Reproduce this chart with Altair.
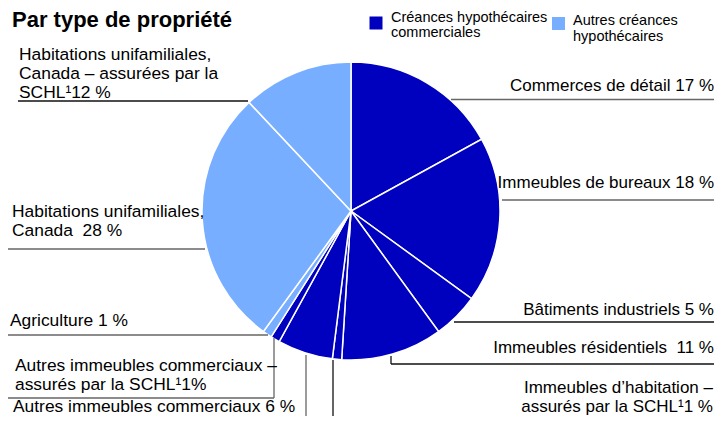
import altair as alt
import pandas as pd

# ---- data ----
categories = [
    "Commerces de détail",
    "Immeubles de bureaux",
    "Bâtiments industriels",
    "Immeubles résidentiels",
    "Immeubles d’habitation – assurés par la SCHL",
    "Autres immeubles commerciaux",
    "Autres immeubles commerciaux – assurés par la SCHL",
    "Agriculture",
    "Habitations unifamiliales, Canada",
    "Habitations unifamiliales, Canada – assurées par la SCHL",
]
values = [17, 18, 5, 11, 1, 6, 1, 1, 28, 12]
groups = ["Créances hypothécaires commerciales"] * 7 + ["Autres créances hypothécaires"] * 3
group_names = ["Créances hypothécaires commerciales", "Autres créances hypothécaires"]

title_text = "Par type de propriété"
legend_lines = [["Créances hypothécaires", "commerciales"], ["Autres créances", "hypothécaires"]]

# label text lines (content)
left_labels = [
    "Habitations unifamiliales,",
    "Canada – assurées par la",
    "SCHL¹12 %",
    "Habitations unifamiliales,",
    "Canada \u00a028 %",
    "Agriculture 1 %",
    "Autres immeubles commerciaux –",
    "assurés par la SCHL¹1%",
    "Autres immeubles commerciaux 6 %",
]
right_labels = [
    "Commerces de détail 17 %",
    "Immeubles de bureaux 18 %",
    "Bâtiments industriels 5 %",
    "Immeubles résidentiels \u00a011 %",
    "Immeubles d’habitation –",
    "assurés par la SCHL¹1 %",
]

# ---- layout (page pixel coordinates) ----
left_pos = [(19, 60), (19, 79), (19, 98), (12, 217), (12, 236), (10, 326), (15, 371), (15, 390), (13, 412)]
right_pos = [(714, 91), (714, 188), (714, 315), (714, 353), (713, 393), (713, 412)]
leader_segments = [
    (451, 99.5, 714, 99.5, "#666666"),
    (502, 200, 714, 200, "#666666"),
    (454, 322, 714, 322, "#111111"),
    (391, 364, 714, 364, "#111111"),
    (391, 356, 391, 364, "#111111"),
    (333, 360, 333, 418, "#111111"),
    (306, 355, 306, 418, "#666666"),
    (274, 338, 274, 398, "#666666"),
    (8, 398, 274, 398, "#666666"),
    (8, 335, 268, 335, "#666666"),
    (8, 249, 205, 249, "#666666"),
    (18, 101, 248, 101, "#111111"),
]
legend_square_pos = [(376, 23), (558.5, 23.5)]
legend_text_pos = [[(391, 22), (391, 37)], [(573, 25), (573, 41)]]
title_pos = (12, 27)

DARK = "#0000BF"
LIGHT = "#78AEFF"
FONT = "Liberation Sans"
W, H = 706, 408
CX, CY, R = 351, 211, 149

xs = alt.Scale(domain=[8, 8 + W], range=[0, W])
ys = alt.Scale(domain=[8, 8 + H], range=[0, H])
X = lambda f: alt.X(f, type="quantitative", scale=xs, axis=None)
Y = lambda f: alt.Y(f, type="quantitative", scale=ys, axis=None)
X2 = lambda f: alt.X2(f)
Y2 = lambda f: alt.Y2(f)

pie_df = pd.DataFrame({"category": categories, "value": values, "group": groups,
                       "order": list(range(len(values)))})
pie = alt.Chart(pie_df).mark_arc(radius=R, stroke="white", strokeWidth=1.5).encode(
    theta=alt.Theta("value:Q", stack=True),
    order=alt.Order("order:Q"),
    color=alt.Color("group:N", scale=alt.Scale(domain=group_names, range=[DARK, LIGHT]), legend=None),
    x=alt.value(CX - 8),
    y=alt.value(CY - 8),
)

seg_df = pd.DataFrame(leader_segments, columns=["x", "y", "x2", "y2", "c"])
segs = alt.Chart(seg_df).mark_rule(strokeWidth=1.3).encode(
    x=X("x"), y=Y("y"), x2=X2("x2"), y2=Y2("y2"), color=alt.Color("c:N", scale=None)
)

ldf = pd.DataFrame({"t": left_labels, "x": [p[0] for p in left_pos], "y": [p[1] for p in left_pos]})
rdf = pd.DataFrame({"t": right_labels, "x": [p[0] for p in right_pos], "y": [p[1] for p in right_pos]})
ltext = alt.Chart(ldf).mark_text(align="left", baseline="alphabetic", font=FONT, fontSize=17.4, color="#000").encode(
    x=X("x"), y=Y("y"), text="t:N")
rtext = alt.Chart(rdf).mark_text(align="right", baseline="alphabetic", font=FONT, fontSize=17, color="#000").encode(
    x=X("x"), y=Y("y"), text="t:N")

tdf = pd.DataFrame({"t": [title_text], "x": [title_pos[0]], "y": [title_pos[1]]})
title = alt.Chart(tdf).mark_text(align="left", baseline="alphabetic", font=FONT, fontSize=22,
                                 fontWeight="bold", color="#000").encode(x=X("x"), y=Y("y"), text="t:N")

sq_df = pd.DataFrame({"x": [p[0] for p in legend_square_pos], "y": [p[1] for p in legend_square_pos],
                      "group": group_names})
squares = alt.Chart(sq_df).mark_square(size=169, opacity=1).encode(
    x=X("x"), y=Y("y"),
    color=alt.Color("group:N", scale=alt.Scale(domain=group_names, range=[DARK, LIGHT]), legend=None))

lt_rows = []
for lines, poss in zip(legend_lines, legend_text_pos):
    for t, p in zip(lines, poss):
        lt_rows.append({"t": t, "x": p[0], "y": p[1]})
legtext = alt.Chart(pd.DataFrame(lt_rows)).mark_text(align="left", baseline="alphabetic", font=FONT,
                                                     fontSize=14.5, color="#000").encode(
    x=X("x"), y=Y("y"), text="t:N")

chart = alt.layer(pie, segs, ltext, rtext, title, squares, legtext).properties(
    width=W, height=H, padding=0, autosize=alt.AutoSizeParams(type="none")
).configure_view(stroke=None).resolve_scale(color="independent")

chart.save("out.html", embed_options={"renderer": "svg", "actions": False})
